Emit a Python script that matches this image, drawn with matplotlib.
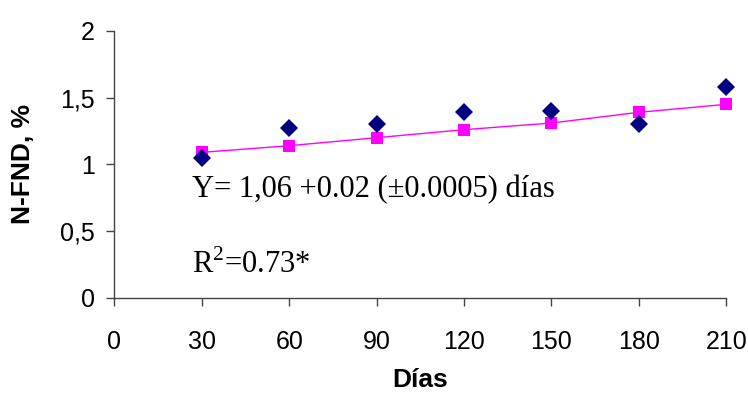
import matplotlib
matplotlib.use("Agg")
import matplotlib.pyplot as plt
from matplotlib.ticker import FuncFormatter

# datos
dias = [30, 60, 90, 120, 150, 180, 210]
n_fnd_obs = [1.05, 1.27, 1.30, 1.39, 1.40, 1.30, 1.58]
n_fnd_pred = [1.09, 1.14, 1.20, 1.26, 1.31, 1.39, 1.45]

x_ticks = [0, 30, 60, 90, 120, 150, 180, 210]
y_ticks = [0, 0.5, 1, 1.5, 2]

ecuacion = "Y= 1,06 +0.02 (\u00b10.0005) d\u00edas"
r2_texto = "R$^2$=0.73*"

plt.rcParams["font.family"] = ["Liberation Sans", "DejaVu Sans"]
plt.rcParams["mathtext.fontset"] = "custom"
plt.rcParams["mathtext.rm"] = "Liberation Serif"

fig = plt.figure(figsize=(7.48, 4.12), dpi=100)
ax = fig.add_axes([0.153, 0.277, 0.818, 0.648])

ax.plot(dias, n_fnd_pred, color="#FF00FF", lw=1.0, marker="s", ms=8.5,
        markeredgewidth=0, zorder=2, clip_on=False)
ax.plot(dias, n_fnd_obs, ls="none", color="#000080", marker="D", ms=9.5,
        markeredgewidth=0, zorder=3, clip_on=False)

ax.set_xlim(0, 210)
ax.set_ylim(0, 2)
ax.set_xticks(x_ticks)
ax.set_yticks(y_ticks)
ax.yaxis.set_major_formatter(FuncFormatter(lambda v, p: f"{v:g}".replace(".", ",")))

for s in ["top", "right"]:
    ax.spines[s].set_visible(False)
for s in ["left", "bottom"]:
    ax.spines[s].set_color("#444444")
    ax.spines[s].set_linewidth(1.0)

ax.tick_params(axis="both", direction="out", length=6, width=1.0,
               color="#444444", labelsize=18)
ax.tick_params(axis="x", pad=17)
ax.tick_params(axis="y", pad=8)

ax.set_xlabel("D\u00edas", fontsize=19, fontweight="bold", labelpad=10)
ax.set_ylabel("N-FND, %", fontsize=19, fontweight="bold", labelpad=18)

ax.text(26.6, 0.81, ecuacion, fontsize=22, family="Liberation Serif", va="center")
ax.text(26.6, 0.25, r2_texto, fontsize=22, family="Liberation Serif", va="center")

fig.savefig("out.png", dpi=100, facecolor="white")
